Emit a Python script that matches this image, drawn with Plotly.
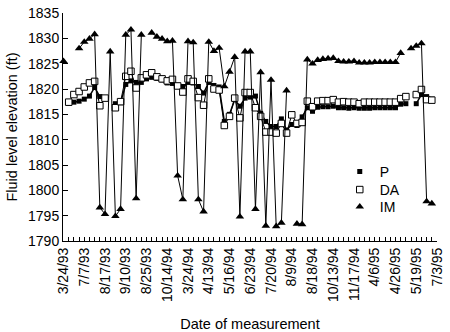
import plotly.graph_objects as go

# ---- data -------------------------------------------------------------
n_categories = 73
categories = list(range(n_categories))          # measurement index (category axis)
tick_labels = ["3/24/93", "7/7/93", "8/17/93", "9/10/93", "8/25/93", "10/14/94",
               "3/24/94", "4/13/94", "5/16/94", "6/23/94", "7/20/94", "8/9/94",
               "8/18/94", "10/13/94", "11/17/94", "4/6/95", "4/26/95", "5/19/95",
               "7/3/95"]
label_step = 4

P = [None, 1817.2, 1817.4, 1817.6, 1818.0, 1818.6, 1820.3, 1818.5, 1818.2, None,
     1817.1, 1817.3, 1820.9, 1821.6, 1821.3, 1821.3, 1822.0, 1822.3, 1822.1, 1821.8,
     1821.2, 1821.1, 1820.7, 1820.5, 1821.3, 1821.2, 1820.5, 1819.2, 1821.3, 1820.7,
     1820.4, 1813.6, 1815.0, 1817.9, 1816.6, 1818.2, 1818.4, 1818.6, 1815.2, 1813.6,
     1812.6, 1812.6, 1814.1, 1811.9, 1813.0, 1812.8, 1814.5, 1816.3, 1815.6, 1816.4,
     1816.5, 1816.5, 1816.6, 1816.3, 1816.3, 1816.2, 1816.3, 1816.2, 1816.2, 1816.2,
     1816.3, 1816.3, 1816.3, 1816.3, 1816.3, 1817.0, 1817.1, None, 1817.1, 1818.9,
     1818.5, 1818.0, None]

DA = [None, 1817.4, 1818.9, 1819.5, 1820.4, 1821.2, 1821.5, 1816.7, 1818.2, None,
      1816.3, 1817.5, 1822.5, 1823.5, 1820.2, 1822.2, 1822.8, 1823.2, 1822.4, 1822.0,
      1821.6, 1821.9, 1820.6, 1819.4, 1822.0, 1821.5, 1818.3, 1816.8, 1822.0, 1820.0,
      1819.8, 1812.8, 1814.6, 1818.2, 1814.3, 1819.3, 1819.3, 1816.3, 1814.6, 1811.5,
      1811.5, 1811.3, 1813.2, 1811.3, 1814.9, 1813.2, 1813.4, 1817.6, 1816.5, 1817.6,
      1817.7, 1817.7, 1817.9, 1817.4, 1817.5, 1817.4, 1817.4, 1817.1, 1817.4, 1817.4,
      1817.4, 1817.4, 1817.4, 1817.4, 1817.4, 1818.1, 1818.5, None, 1818.9, 1819.9,
      1817.9, 1817.8, None]

IM = [1825.5, None, None, 1828.0, 1829.3, 1829.9, 1830.8, 1796.6, 1795.3, 1827.4,
      1794.9, 1796.3, 1830.7, 1831.7, 1798.4, 1830.7, None, 1831.1, 1830.3, 1829.9,
      1829.4, 1829.5, 1802.9, 1798.2, 1829.4, 1829.2, 1798.2, 1795.8, 1829.3, 1827.5,
      1828.1, 1820.5, 1823.4, 1826.3, 1794.8, 1827.4, 1827.4, 1796.3, 1823.3, 1793.0,
      1821.8, 1792.9, 1793.6, 1819.7, None, 1793.4, 1793.3, 1825.8, 1825.0, 1825.7,
      1825.9, 1826.0, 1826.1, 1825.5, 1825.4, 1825.4, 1825.5, 1825.2, 1825.2, 1825.2,
      1825.3, 1825.3, 1825.3, 1825.3, 1825.3, 1827.1, None, 1828.0, 1828.5, 1829.0,
      1797.8, 1797.4, None]

series_names = ["P", "DA", "IM"]

# ---- styles -----------------------------------------------------------
FONT = "Liberation Sans, Arial, Helvetica, sans-serif"
markers = {
    "P": dict(symbol="square", size=5, color="black"),
    "DA": dict(symbol="square", size=6.5, color="white", line=dict(color="black", width=1)),
    "IM": dict(symbol="triangle-up", size=7.5, color="black"),
}
line_widths = {"P": 1.5, "DA": 1, "IM": 1}
values = {"P": P, "DA": DA, "IM": IM}
legend_ids = {"P": "legend", "DA": "legend2", "IM": "legend3"}

fig = go.Figure()
for name in series_names:
    fig.add_trace(go.Scatter(
        x=categories, y=values[name], mode="lines+markers", name=name,
        line=dict(color="black", width=line_widths[name]), marker=markers[name],
        connectgaps=False, showlegend=False, cliponaxis=False))
# legend entries (marker only, as in the original)
for name in series_names:
    fig.add_trace(go.Scatter(x=[None], y=[None], mode="markers", name=name,
                             marker=markers[name], showlegend=True,
                             legend=legend_ids[name]))

tick_vals = categories[::label_step]

legend_style = dict(xanchor="left", yanchor="top", bgcolor="rgba(0,0,0,0)",
                    font=dict(size=14), itemwidth=30)

fig.update_layout(
    width=450, height=332,
    margin=dict(l=63, r=13, t=13, b=91),
    paper_bgcolor="white", plot_bgcolor="white",
    font=dict(family=FONT, size=14, color="black"),
    showlegend=True,
    legend=dict(x=0.74, y=0.373, **legend_style),
    legend2=dict(x=0.74, y=0.294, **legend_style),
    legend3=dict(x=0.74, y=0.219, **legend_style),
    xaxis=dict(
        automargin=False,
        range=[-0.1, 72], tickmode="array", tickvals=tick_vals, ticktext=tick_labels,
        tickangle=-90, ticks="inside", ticklen=4, tickwidth=1, tickcolor="black",
        showline=True, linecolor="black", linewidth=1, showgrid=False, zeroline=False,
        minor=dict(dtick=1, tick0=0, ticks="inside", ticklen=4, tickcolor="black", showgrid=False),
        title=dict(text="Date of measurement", font=dict(size=14.5), standoff=20),
        tickfont=dict(size=14),
    ),
    yaxis=dict(
        automargin=False,
        range=[1790, 1835], dtick=5, tick0=1790,
        ticks="inside", ticklen=5, tickwidth=1, tickcolor="black",
        showline=True, linecolor="black", linewidth=1, showgrid=False, zeroline=False,
        title=dict(text="Fluid level elevation (ft)", font=dict(size=14.5), standoff=6),
        tickfont=dict(size=14),
    ),
)

fig.write_html("out.html")
